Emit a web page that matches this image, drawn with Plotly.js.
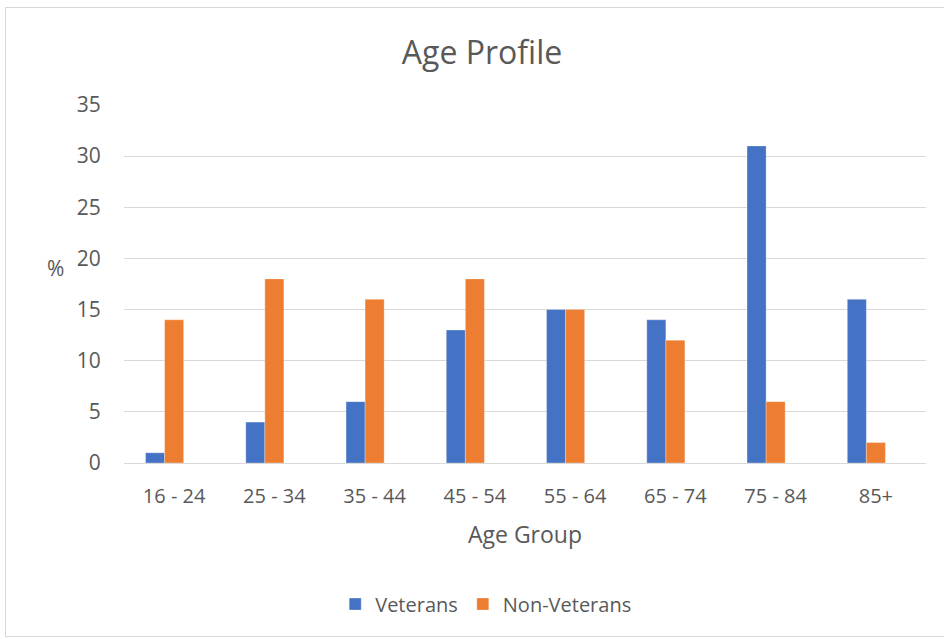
<!DOCTYPE html>
<html>
<head>
<meta charset="utf-8">
<script src="https://cdn.plot.ly/plotly-3.0.1.min.js"></script>
<style>
html,body{margin:0;padding:0;background:#fff;}
#chart{position:absolute;left:0;top:0;width:944px;height:639px;}
#frame{position:absolute;left:5px;top:7px;width:945px;height:628px;border:1px solid #d9d9d9;pointer-events:none;}
</style>
</head>
<body>
<div id="chart"></div>
<div id="frame"></div>
<script>
const categories = ["16 - 24","25 - 34","35 - 44","45 - 54","55 - 64","65 - 74","75 - 84","85+"];
const veterans = [1,4,6,13,15,14,31,16];
const nonVeterans = [14,18,16,18,15,12,6,2];

const fontFam = "'Open Sans', sans-serif";
const grey = "#595959";

const data = [
  {type:"bar", name:"Veterans", x:categories, y:veterans, width:0.19, offset:-0.285,
   marker:{color:"#4472C4", line:{color:"rgba(255,255,255,0.6)", width:0.5}}, hoverinfo:"none"},
  {type:"bar", name:"Non-Veterans", x:categories, y:nonVeterans, width:0.19, offset:-0.095,
   marker:{color:"#ED7D31", line:{color:"rgba(255,255,255,0.6)", width:0.5}}, hoverinfo:"none"}
];

const layout = {
  width:944, height:639,
  margin:{l:124, r:18, t:105, b:176},
  paper_bgcolor:"rgba(0,0,0,0)", plot_bgcolor:"#fff",
  font:{family:fontFam, color:grey, size:21},
  title:{text:"Age Profile", font:{size:32, color:grey, family:fontFam}, x:0.5106, xanchor:"center", y:0.918, yanchor:"middle"},
  barmode:"overlay",
  xaxis:{type:"category", showgrid:false, zeroline:false, showline:false,
    ticks:"outside", ticklen:15, tickcolor:"rgba(0,0,0,0)",
    tickfont:{size:20, color:grey},
    title:{text:"Age Group", font:{size:23, color:grey}, standoff:18}},
  yaxis:{range:[0,35], dtick:5, tick0:0, showgrid:true, gridcolor:"#d9d9d9", gridwidth:1,
    zeroline:true, zerolinecolor:"#d9d9d9", zerolinewidth:1, showline:false,
    ticks:"outside", ticklen:18, tickcolor:"rgba(0,0,0,0)",
    tickfont:{size:21, color:grey}},
  showlegend:true,
  legend:{orientation:"h", x:0.451, xanchor:"center", y:-0.394, yanchor:"middle",
    font:{size:20, color:grey}, itemwidth:30, tracegroupgap:0},
  annotations:[{text:"%", xref:"paper", yref:"paper", x:-0.085, y:0.545, xanchor:"center", yanchor:"middle",
    showarrow:false, font:{size:21, color:grey}}]
};

Plotly.newPlot("chart", data, layout, {displayModeBar:false, staticPlot:true});
</script>
</body>
</html>
